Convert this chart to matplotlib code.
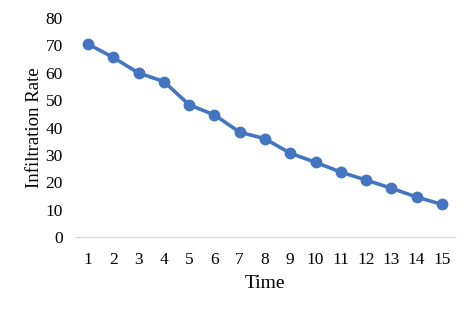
import matplotlib.pyplot as plt

time = list(range(1, 16))
rate = [70.5, 65.6, 59.9, 56.8, 48.3, 44.6, 38.3, 35.9, 30.6, 27.3, 23.7, 20.8, 17.8, 14.6, 11.9]
yticks = [0, 10, 20, 30, 40, 50, 60, 70, 80]

plt.rcParams['font.family'] = ['Liberation Serif', 'DejaVu Serif']

fig = plt.figure(figsize=(4.74, 3.11), dpi=100)
ax = fig.add_axes([0.159, 0.238, 0.8, 0.704])

ax.plot(time, rate, color='#4575C0', linewidth=2.6, marker='o', markersize=7.5)

ax.set_xlim(0.5, 15.5)
ax.set_ylim(0, 80)
ax.set_xticks(time)
ax.set_yticks(yticks)
ax.tick_params(length=0, labelsize=12.5, colors='black')
ax.tick_params(axis='x', pad=11)
ax.tick_params(axis='y', pad=9)

for s in ['top', 'right', 'left']:
    ax.spines[s].set_visible(False)
ax.spines['bottom'].set_color('#d9d9d9')
ax.spines['bottom'].set_linewidth(1)

ax.set_xlabel('Time', fontsize=14, labelpad=5)
ax.set_ylabel('Infiltration Rate', fontsize=13.5, labelpad=2)

fig.savefig('out.png', dpi=100)
